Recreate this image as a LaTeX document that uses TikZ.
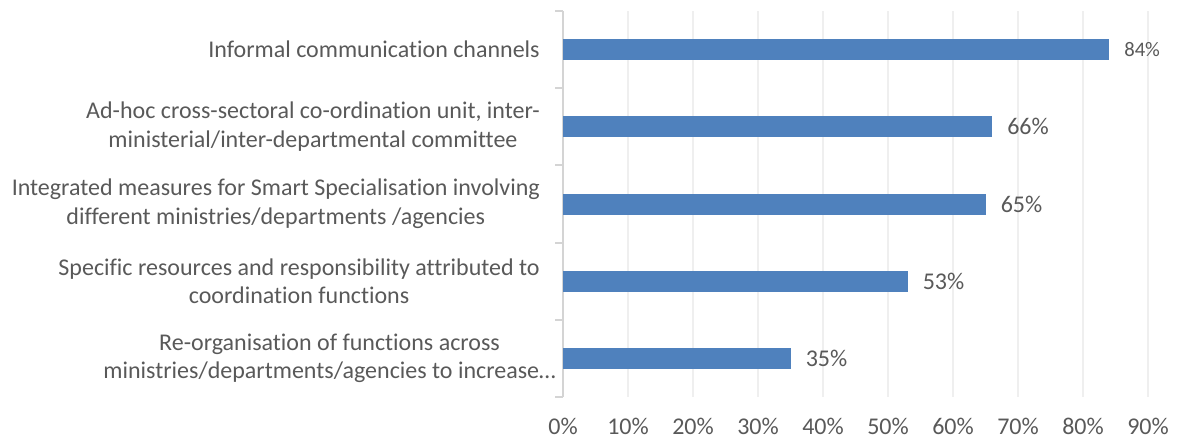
\documentclass[tikz,border=0pt]{standalone}
\usepackage{fontspec}
\setmainfont{Carlito}[Ligatures={NoCommon}]
\usepackage{tikz}
\usetikzlibrary{calc}
\definecolor{barblue}{HTML}{4F81BD}
\definecolor{txtgray}{HTML}{595959}
\definecolor{gridgray}{HTML}{EFEFEF}
\definecolor{axisgray}{HTML}{D4D4D4}

\begin{document}
\begin{tikzpicture}[x=0.75pt,y=-0.75pt,
    catlabel/.style={font=\fontsize{18}{21.5}\selectfont, text=txtgray, align=center, anchor=east, inner sep=0pt},
    vallabel/.style={font=\fontsize{18}{21.5}\selectfont, text=txtgray, anchor=west, inner sep=0pt},
    ticklabel/.style={font=\fontsize{18}{21.5}\selectfont, text=txtgray, inner sep=0pt}]
    %%Background
    \path[use as bounding box] (0,0) rectangle (1178,439);

    %% Grid
    \foreach \g in {1,...,9}
    {
    \draw[gridgray, line width=1.5] (563+65*\g,11) to (563+65*\g,397);
    }

    %% Axis
    \draw[axisgray, line width=1.5] (563,11) to (563,397);
    \foreach \k in {0,...,5}
    {
    \draw[axisgray, line width=1.5] (555,11+77.2*\k) to (563,11+77.2*\k);
    }
    \foreach \g in {0,...,9}
    {
    \pgfmathtruncatemacro\pct{10*\g}
    \node[ticklabel] (tick\g) at (563+65*\g,426) {\pct\%};
    }

    %% Bars
    \foreach \v/\s [count=\i] in {84/15.5, 66/18, 65/18, 53/18, 35/18}
    {
    \fill[barblue] (563,11+77.2*\i-77.2/2-10.5) rectangle (563+6.5*\v,11+77.2*\i-77.2/2+10.5);
    \node[vallabel, font=\fontsize{\s}{21.5}\selectfont] (val\i) at (563+6.5*\v+15,11+77.2*\i-77.2/2) {\v\%};
    }

    %% Categories
    \node[catlabel] (cat1) at (540,49.6) {Informal communication channels};
    \node[catlabel] (cat2) at (540,126.8) {Ad-hoc cross-sectoral co-ordination unit, inter-\\ministerial/inter-departmental committee};
    \node[catlabel] (cat3) at (540,204) {Integrated measures for Smart Specialisation involving\\different ministries/departments /agencies};
    \node[catlabel] (cat4) at (540,281.2) {Specific resources and responsibility attributed to\\coordination functions};
    \node[catlabel] (cat5) at (556,358.4) {Re-organisation of functions across\\ministries/departments/agencies to increase\ldots};

\end{tikzpicture}
\end{document}
